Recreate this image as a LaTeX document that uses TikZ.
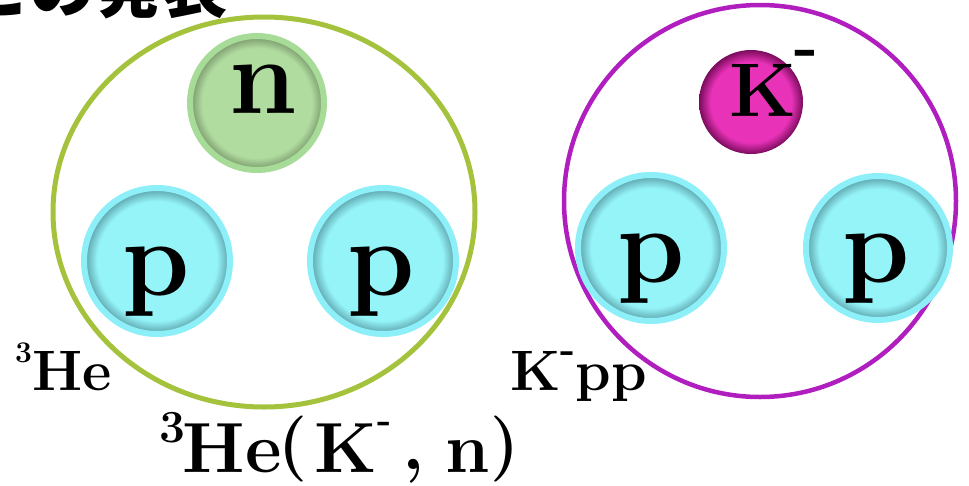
\documentclass[tikz,border=0pt]{standalone}
\usepackage{fontspec}
\newfontfamily\jpfont{Noto Sans CJK JP}
\usetikzlibrary{shapes.geometric}
\definecolor{cyRing}{HTML}{8DEFF8}
\definecolor{cyIn}{HTML}{94F4F8}
\definecolor{cyDk}{HTML}{66B0B8}
\definecolor{gnRing}{HTML}{A6DC98}
\definecolor{gnIn}{HTML}{B0DCA0}
\definecolor{gnDk}{HTML}{84A474}
\definecolor{mgIn}{HTML}{E832B8}
\definecolor{mgDk}{HTML}{7A0C5C}
\definecolor{heGreen}{HTML}{A4C23C}
\definecolor{kpPurple}{HTML}{B01EC0}
\pgfdeclareradialshading{cyanball}{\pgfpoint{0bp}{0bp}}{color(0bp)=(cyIn);color(20.5bp)=(cyIn);color(24bp)=(cyDk);color(25bp)=(cyDk);color(50bp)=(cyDk)}
\pgfdeclareradialshading{greenball}{\pgfpoint{0bp}{0bp}}{color(0bp)=(gnIn);color(20.5bp)=(gnIn);color(24bp)=(gnDk);color(25bp)=(gnDk);color(50bp)=(gnDk)}
\pgfdeclareradialshading{magball}{\pgfpoint{0bp}{0bp}}{color(0bp)=(mgIn);color(19.5bp)=(mgIn);color(25bp)=(mgDk);color(50bp)=(mgDk)}
\begin{document}
\begin{tikzpicture}[x=1pt,y=-1pt,
  ball/.style={circle,inner sep=0pt,line width=6pt},
  protonball/.style={ball,draw=cyRing,shading=cyanball,minimum size=#1},
  neutronball/.style={ball,draw=gnRing,shading=greenball,minimum size=#1},
  kaonball/.style={circle,inner sep=0pt,draw=none,shading=magball,minimum size=#1},
  balltext/.style={inner sep=0pt,anchor=base,font=\bfseries\fontsize{108}{108}\selectfont},
  label/.style={inner sep=0pt,anchor=base west,font=\bfseries\fontsize{57}{57}\selectfont},
  nucleus/.style={inner sep=0pt,draw=#1,line width=5pt}]
\useasboundingbox (0,0) rectangle (969,485);
\fill[white] (0,0) rectangle (969,485);
\clip (0,0) rectangle (969,485);

% title (cut off at top)
\node[inner sep=0pt,anchor=base east,font=\jpfont\bfseries\fontsize{66}{66}\selectfont] (title) at (228,12) {との発表};

% nuclei outlines
\node[nucleus=heGreen,ellipse,minimum width=422,minimum height=390] (he3) at (264,212) {};
\node[nucleus=kpPurple,circle,line width=4.5pt,minimum size=392] (kpp) at (760,201) {};

% 3He constituents
\node[neutronball=134] (nball) at (257,103) {};
\node[protonball=146] (p1ball) at (157,261) {};
\node[protonball=146] (p2ball) at (383,261) {};
\node[balltext] (ntext) at (263,113) {n};
\node[balltext] (p1text) at (156,295) {p};
\node[balltext] (p2text) at (381,295) {p};

% K-pp constituents
\node[kaonball=104] (kball) at (751,102) {};
\node[protonball=146] (p3ball) at (651,248) {};
\node[protonball=144] (p4ball) at (878,248) {};
\node[inner sep=0pt,anchor=base west,font=\bfseries\fontsize{76}{76}\selectfont] (ktext) at (729,116) {K\kern-2pt\raisebox{49pt}{\fontsize{64}{64}\selectfont -}};
\node[balltext] (p3text) at (651,282) {p};
\node[balltext] (p4text) at (876,282) {p};

% labels
\node[label] (helabel) at (15,390) {{\fontsize{30}{30}\selectfont\raisebox{28pt}{3}}He};
\node[label] (kpplabel) at (510,390) {K{\fontsize{40}{40}\selectfont\raisebox{28pt}{-}}pp};
\node[inner sep=0pt,anchor=base west,font=\bfseries\fontsize{71}{71}\selectfont] (reaction) at (159,472)
  {{\fontsize{46}{46}\selectfont\raisebox{30pt}{3}}\kern-2.5pt He\kern-3pt{\fontsize{66}{66}\selectfont\raisebox{7pt}{(}}\kern7pt K\kern1pt{\fontsize{38}{38}\selectfont\raisebox{40pt}{-}}\kern10pt\raisebox{3pt}{,}\kern21pt n\kern1pt{\fontsize{66}{66}\selectfont\raisebox{7pt}{)}}};
\end{tikzpicture}
\end{document}
